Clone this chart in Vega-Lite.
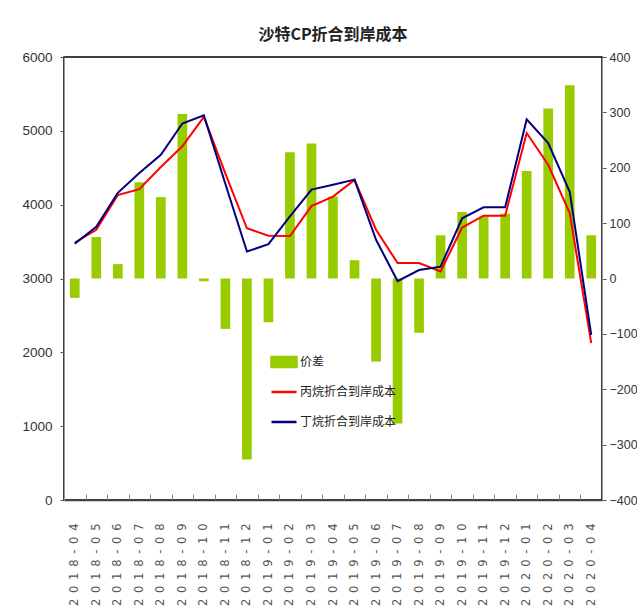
{
  "$schema": "https://vega.github.io/schema/vega-lite/v6.json",
  "autosize": {"type": "none"},
  "padding": {"left": 64, "top": 57, "right": 35, "bottom": 114},
  "width": 538,
  "height": 443,
  "background": "white",
  "title": {
    "text": "沙特CP折合到岸成本",
    "font": "Noto Sans CJK SC",
    "fontSize": 16,
    "fontWeight": "bold",
    "color": "#222",
    "anchor": "middle",
    "offset": 7
  },
  "config": {
    "view": {"stroke": "#000", "strokeWidth": 1.5},
    "axis": {"grid": false, "labelFont": "Liberation Sans", "labelColor": "#333", "titleFontSize": 0}
  },
  "data": {
    "values": [
      {"month": "2018-04", "spread": -35, "propane": 3485, "butane": 3470},
      {"month": "2018-05", "spread": 75, "propane": 3660, "butane": 3700},
      {"month": "2018-06", "spread": 26, "propane": 4130, "butane": 4160},
      {"month": "2018-07", "spread": 174, "propane": 4210, "butane": 4430},
      {"month": "2018-08", "spread": 147, "propane": 4510, "butane": 4675},
      {"month": "2018-09", "spread": 297, "propane": 4790, "butane": 5100},
      {"month": "2018-10", "spread": -5, "propane": 5190, "butane": 5210},
      {"month": "2018-11", "spread": -91, "propane": 4420, "butane": 4280},
      {"month": "2018-12", "spread": -327, "propane": 3680, "butane": 3365},
      {"month": "2019-01", "spread": -79, "propane": 3580, "butane": 3465},
      {"month": "2019-02", "spread": 228, "propane": 3575, "butane": 3840},
      {"month": "2019-03", "spread": 244, "propane": 3980, "butane": 4205},
      {"month": "2019-04", "spread": 148, "propane": 4110, "butane": 4270},
      {"month": "2019-05", "spread": 33, "propane": 4335, "butane": 4340},
      {"month": "2019-06", "spread": -150, "propane": 3660, "butane": 3525},
      {"month": "2019-07", "spread": -262, "propane": 3210, "butane": 2965},
      {"month": "2019-08", "spread": -98, "propane": 3210, "butane": 3115},
      {"month": "2019-09", "spread": 78, "propane": 3095, "butane": 3160},
      {"month": "2019-10", "spread": 120, "propane": 3690, "butane": 3815},
      {"month": "2019-11", "spread": 112, "propane": 3850, "butane": 3965},
      {"month": "2019-12", "spread": 117, "propane": 3850, "butane": 3965},
      {"month": "2020-01", "spread": 194, "propane": 4970, "butane": 5155},
      {"month": "2020-02", "spread": 307, "propane": 4540, "butane": 4835},
      {"month": "2020-03", "spread": 349, "propane": 3885, "butane": 4175},
      {"month": "2020-04", "spread": 78, "propane": 2125, "butane": 2235}
    ]
  },
  "encoding": {
    "x": {
      "field": "month", "type": "ordinal",
      "scale": {"paddingInner": 0, "paddingOuter": 0},
      "axis": {
        "title": null,
        "labelAngle": -90,
        "labelFont": "DejaVu Sans",
        "labelFontSize": 11.5,
        "labelColor": "#555",
        "labelExpr": "replace(datum.label, regexp('(.)', 'g'), '$1\u2002')",
        "tickBand": "extent",
        "tickSize": -6,
        "tickColor": "#888",
        "domainColor": "#444",
        "domainWidth": 1.5,
        "labelPadding": 29
      }
    }
  },
  "layer": [
    {
      "mark": {"type": "bar", "width": {"band": 0.45}},
      "encoding": {
        "y": {
          "field": "spread", "type": "quantitative",
          "scale": {"domain": [-400, 400], "nice": false},
          "axis": {"orient": "right", "title": null, "format": "d", "values": [-400, -300, -200, -100, 0, 100, 200, 300, 400], "labelFontSize": 12.5, "tickSize": 4, "tickColor": "#555", "domainColor": "#999", "labelPadding": 3}
        },
        "color": {"datum": "价差", "type": "nominal"}
      }
    },
    {
      "transform": [{"fold": ["propane", "butane"], "as": ["key", "cost"]}],
      "mark": {"type": "line", "strokeWidth": 2},
      "encoding": {
        "y": {
          "field": "cost", "type": "quantitative",
          "scale": {"domain": [0, 6000], "nice": false},
          "axis": {"orient": "left", "title": null, "format": "d", "values": [0, 1000, 2000, 3000, 4000, 5000, 6000], "labelFontSize": 13.5, "tickSize": 4, "tickColor": "#555", "domainColor": "#999", "labelPadding": 8}
        },
        "color": {
          "field": "key", "type": "nominal",
          "scale": {
            "domain": ["价差", "propane", "butane"],
            "range": ["#99cc00", "#ff0000", "#000080"]
          },
          "legend": {
            "orient": "none",
            "legendX": 206,
            "legendY": 293,
            "title": null,
            "symbolSize": 625,
            "clipHeight": 24,
            "labelFont": "Noto Sans CJK SC",
            "labelFontSize": 12,
            "labelColor": "#222",
            "labelOffset": 2,
            "rowPadding": 6,
            "labelExpr": "datum.value === 'propane' ? '丙烷折合到岸成本' : (datum.value === 'butane' ? '丁烷折合到岸成本' : datum.value)",
            "encode": {
              "symbols": {
                "update": {
                  "shape": {"signal": "datum.value === '价差' ? 'M-1,-0.4H1V0.4H-1Z' : 'stroke'"},
                  "fill": {"signal": "datum.value === '价差' ? '#99cc00' : 'transparent'"},
                  "stroke": {"signal": "datum.value === '价差' ? 'transparent' : (datum.value === 'propane' ? '#ff0000' : '#000080')"},
                  "strokeWidth": {"value": 2.5},
                  "opacity": {"value": 1}
                }
              }
            }
          }
        }
      }
    }
  ],
  "resolve": {"scale": {"y": "independent"}}
}
